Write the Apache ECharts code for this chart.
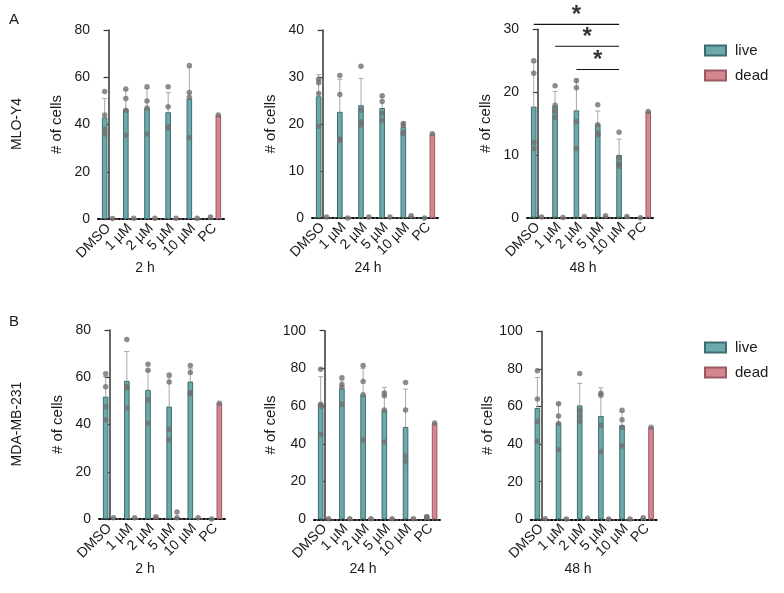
<!DOCTYPE html>
<html>
<head>
<meta charset="utf-8">
<script src="https://cdn.jsdelivr.net/npm/echarts@6/dist/echarts.min.js"></script>
<style>html,body{margin:0;padding:0;background:#fff}#c{width:784px;height:593px}</style>
</head>
<body>
<div id="c"></div>
<script>
// ---------- DATA ----------
const categories = ['DMSO', '1 µM', '2 µM', '5 µM', '10 µM', 'PC'];
const timeLabels = ['2 h', '24 h', '48 h'];
const cellLines = ['MLO-Y4', 'MDA-MB-231'];

// A: MLO-Y4 2 h
const a2Live = [43, 46.5, 47, 45.2, 51, 0.6];
const a2LiveSD = [8, 8, 8.3, 8.3, 13, 0];
const a2LiveDots = [[54, 44, 38, 36], [55, 51, 46, 35.5], [56, 50, 47, 36], [56, 47.5, 39, 38.5], [65, 53.5, 51.5, 34.5], [0.8]];
const a2Dead = [0.2, 0.3, 0.3, 0.3, 0.3, 44];
const a2DeadDots = [[0.2], [0.3], [0.3], [0.3], [0.3], [44]];

// A: MLO-Y4 24 h
const a24Live = [25.9, 22.6, 24, 23.4, 19.4, 0];
const a24LiveSD = [4.6, 6.9, 5.7, 2.3, 1.0, 0];
const a24LiveDots = [[29.5, 28.8, 26.5, 19.5], [30.3, 26.3, 16.8, 16.5], [32.3, 23, 20.5, 19.8], [26, 24.8, 22.3, 20.8], [20.1, 19.7, 18.2, 17.9], [0]];
const a24Dead = [0.2, 0, 0.2, 0.2, 0.5, 17.9];
const a24DeadDots = [[0.2], [0], [0.2], [0.2], [0.5], [17.9]];

// A: MLO-Y4 48 h
const a48Live = [17.7, 17.8, 17.1, 14.9, 10, 0];
const a48LiveSD = [7, 2.3, 5, 2.1, 2.5, 0];
const a48LiveDots = [[25, 23, 12, 11], [21, 17.9, 17, 16], [21.8, 20.7, 15.3, 11], [18, 14.8, 13.5, 13.2], [13.6, 9.6, 8.6, 8.2], [0]];
const a48Dead = [0.1, 0.05, 0.2, 0.3, 0.2, 16.9];
const a48DeadDots = [[0.1], [0.05], [0.2], [0.3], [0.2], [16.9]];

// significance brackets (A, 48 h): from category -> to category, height, label
const sigFrom = [0, 1, 2];
const sigTo = [4, 4, 4];
const sigY = [30.8, 27.3, 23.6];
const sigText = ['*', '*', '*'];

// B: MDA-MB-231 2 h
const b2Live = [51.8, 58.5, 54.7, 47.6, 58.2, 0];
const b2LiveSD = [8.5, 12.4, 8, 12.2, 5.4, 0];
const b2LiveDots = [[61.5, 56, 47.5, 42], [76, 56, 55.5, 47], [65.5, 63, 50.5, 40.5], [61, 58, 38, 33.5], [65, 62, 53.5, 53], [0]];
const b2Dead = [0.5, 0.5, 1, 0.8, 0.5, 49];
const b2DeadDots = [[0.5], [0.5], [1], [0.5, 3], [0.5], [49]];

// B: MDA-MB-231 24 h
const b24Live = [61.5, 69.4, 66, 58, 49, 1.5];
const b24LiveSD = [14.1, 4, 14, 12, 20, 0.5];
const b24LiveDots = [[79.5, 61, 60, 45], [75, 71.5, 70, 61], [81.5, 73, 66, 42], [67, 65.5, 58, 41], [72.5, 58, 33.5, 30.5], [1.5, 1]];
const b24Dead = [0.3, 0.3, 0.3, 0.3, 0.3, 51];
const b24DeadDots = [[0.3], [0.3], [0.3], [0.3], [0.3], [51]];

// B: MDA-MB-231 48 h
const b48Live = [59.2, 51.2, 60.6, 55, 50, 0.8];
const b48LiveSD = [16.2, 10.3, 11.7, 14.9, 7, 0];
const b48LiveDots = [[79, 64, 52, 41.5], [61.5, 55, 51, 37], [77.5, 58, 55, 52], [67, 66, 50, 36], [58, 53, 49, 39], [0.8]];
const b48Dead = [0.3, 0.2, 0.6, 0.2, 0.2, 49];
const b48DeadDots = [[0.3], [0.2], [0.6], [0.2], [0.2], [49]];

const yMax = [80, 40, 30, 80, 100, 100];
const yStep = [20, 10, 10, 20, 20, 20];

// ---------- LAYOUT / STYLE ----------
const FONT = 'Liberation Sans, Arial, sans-serif';
const grids = [
  {left: 98, top: 30, width: 127, height: 189},
  {left: 312, top: 30, width: 127, height: 188},
  {left: 527, top: 29.3, width: 128, height: 188.4},
  {left: 99, top: 330, width: 127, height: 189},
  {left: 314, top: 330.7, width: 127.3, height: 188.6},
  {left: 530.7, top: 331.3, width: 127, height: 188}
];
const BAR_W = 5.6, BAR_GAP = 0.4;
const LIVE_COLOR = '#6ba9aa', LIVE_BORDER = '#3e6d70';
const DEAD_COLOR = '#d4878f', DEAD_BORDER = '#9a5a62';
const DOT_COLOR = '#707070', ERR_COLOR = '#a8a8a8';

const panels = [
  [a2Live, a2LiveSD, a2LiveDots, a2Dead, a2DeadDots],
  [a24Live, a24LiveSD, a24LiveDots, a24Dead, a24DeadDots],
  [a48Live, a48LiveSD, a48LiveDots, a48Dead, a48DeadDots],
  [b2Live, b2LiveSD, b2LiveDots, b2Dead, b2DeadDots],
  [b24Live, b24LiveSD, b24LiveDots, b24Dead, b24DeadDots],
  [b48Live, b48LiveSD, b48LiveDots, b48Dead, b48DeadDots]
];

const xAxis = [], yAxis = [], series = [];

function errRender(params, api) {
  const x = api.value(0), lo = api.value(1), hi = api.value(2);
  if (!(hi > lo)) return null;
  const p1 = api.coord([x, lo]), p2 = api.coord([x, hi]);
  const hw = 2.5;
  return {type: 'group', children: [
    {type: 'line', shape: {x1: p1[0], y1: p1[1], x2: p2[0], y2: p2[1]}, style: {stroke: ERR_COLOR, lineWidth: 1}},
    {type: 'line', shape: {x1: p2[0] - hw, y1: p2[1], x2: p2[0] + hw, y2: p2[1]}, style: {stroke: ERR_COLOR, lineWidth: 1}}
  ]};
}

panels.forEach((pd, p) => {
  const [live, sd, dots, dead, deadDots] = pd;
  const catW = grids[p].width / categories.length;
  const off = (BAR_W * (1 + BAR_GAP) / 2) / catW; // bar centre offset in category units
  xAxis.push({
    type: 'category', gridIndex: p, data: categories,
    axisLine: {lineStyle: {color: '#111', width: 2, type: 'dotted'}},
    axisTick: {alignWithLabel: true, length: 4, lineStyle: {color: '#111', width: 1.2}},
    axisLabel: {rotate: 45, fontSize: 14, color: '#1a1a1a', margin: 7, fontFamily: FONT, interval: 0}
  });
  xAxis.push({type: 'value', gridIndex: p, min: -0.5, max: categories.length - 0.5, show: false});
  yAxis.push({
    type: 'value', gridIndex: p, min: 0, max: yMax[p], interval: yStep[p],
    name: '# of cells', nameLocation: 'middle', nameGap: 34,
    nameTextStyle: {fontSize: 15, color: '#1a1a1a', fontFamily: FONT},
    axisLine: {show: true, lineStyle: {color: '#333', width: 1.5}},
    axisTick: {show: true, length: 5, lineStyle: {color: '#333', width: 1.2}},
    axisLabel: {fontSize: 14, color: '#1a1a1a', margin: 8, fontFamily: FONT},
    splitLine: {show: false}
  });
  const cx = 2 * p, vx = 2 * p + 1;
  series.push({
    name: 'live', type: 'bar', xAxisIndex: cx, yAxisIndex: p, data: live,
    barWidth: BAR_W, barGap: (BAR_GAP * 100) + '%',
    itemStyle: {color: LIVE_COLOR, borderColor: LIVE_BORDER, borderWidth: 1}, silent: true
  });
  series.push({
    name: 'dead', type: 'bar', xAxisIndex: cx, yAxisIndex: p, data: dead,
    barWidth: BAR_W, barGap: (BAR_GAP * 100) + '%',
    itemStyle: {color: DEAD_COLOR, borderColor: DEAD_BORDER, borderWidth: 1}, silent: true
  });
  series.push({
    type: 'custom', xAxisIndex: vx, yAxisIndex: p, renderItem: errRender, silent: true, z: 3,
    encode: {x: 0, y: [1, 2]},
    data: live.map((m, i) => [i - off, m, m + sd[i]])
  });
  const ld = [], dd = [];
  dots.forEach((arr, i) => arr.forEach(v => ld.push([i - off, v])));
  deadDots.forEach((arr, i) => arr.forEach(v => dd.push([i + off, v])));
  series.push({type: 'scatter', xAxisIndex: vx, yAxisIndex: p, data: ld, symbolSize: 5.5, itemStyle: {color: DOT_COLOR}, silent: true, z: 4, clip: false});
  series.push({type: 'scatter', xAxisIndex: vx, yAxisIndex: p, data: dd, symbolSize: 5.5, itemStyle: {color: DOT_COLOR}, silent: true, z: 4, clip: false});

  if (p === 2) {
    sigFrom.forEach((f, k) => {
      const x0 = f - off, x1 = sigTo[k] - off;
      series.push({
        type: 'line', xAxisIndex: vx, yAxisIndex: p, data: [[x0, sigY[k]], [x1, sigY[k]]],
        symbol: 'none', clip: false, silent: true, lineStyle: {color: '#111', width: 1.2}, z: 5
      });
      series.push({
        type: 'scatter', xAxisIndex: vx, yAxisIndex: p, data: [[(x0 + x1) / 2, sigY[k]]],
        symbolSize: 2, itemStyle: {color: 'rgba(0,0,0,0)'}, clip: false, silent: true, z: 5,
        label: {show: true, position: 'top', distance: -4, formatter: sigText[k],
          fontSize: 24, fontWeight: 'bold', color: '#000', fontFamily: FONT}
      });
    });
  }
});

const graphic = [
  {type: 'text', left: 9, top: 12, style: {text: 'A', fontSize: 15, fill: '#1a1a1a', fontFamily: FONT}},
  {type: 'text', left: 9, top: 314, style: {text: 'B', fontSize: 15, fill: '#1a1a1a', fontFamily: FONT}},
  {type: 'text', x: 17, y: 124, rotation: Math.PI / 2, style: {text: cellLines[0], fontSize: 14, fill: '#1a1a1a', fontFamily: FONT, textAlign: 'center', textVerticalAlign: 'middle'}},
  {type: 'text', x: 17, y: 424, rotation: Math.PI / 2, style: {text: cellLines[1], fontSize: 14, fill: '#1a1a1a', fontFamily: FONT, textAlign: 'center', textVerticalAlign: 'middle'}}
];
const timePos = [[145, 268], [368, 268], [583, 268], [145, 569], [363, 569], [578, 569]];
timePos.forEach((pos, k) => {
  graphic.push({type: 'text', x: pos[0], y: pos[1], style: {text: timeLabels[k % 3], fontSize: 14, fill: '#1a1a1a', fontFamily: FONT, textAlign: 'center', textVerticalAlign: 'middle'}});
});

const legendBase = {
  orient: 'vertical', itemWidth: 21, itemHeight: 10, itemGap: 10, data: ['live', 'dead'],
  textStyle: {fontSize: 15, color: '#1a1a1a', fontFamily: FONT, padding: [0, 0, 0, 4]},
  selectedMode: false, icon: 'rect'
};

const chart = echarts.init(document.getElementById('c'), null, {renderer: 'canvas'});
chart.setOption({
  animation: false,
  backgroundColor: '#fff',
  textStyle: {fontFamily: FONT},
  grid: grids,
  xAxis: xAxis,
  yAxis: yAxis,
  series: series,
  graphic: graphic,
  legend: [
    Object.assign({}, legendBase, {left: 699, top: 38}),
    Object.assign({}, legendBase, {left: 699, top: 335})
  ]
});
</script>
</body>
</html>
